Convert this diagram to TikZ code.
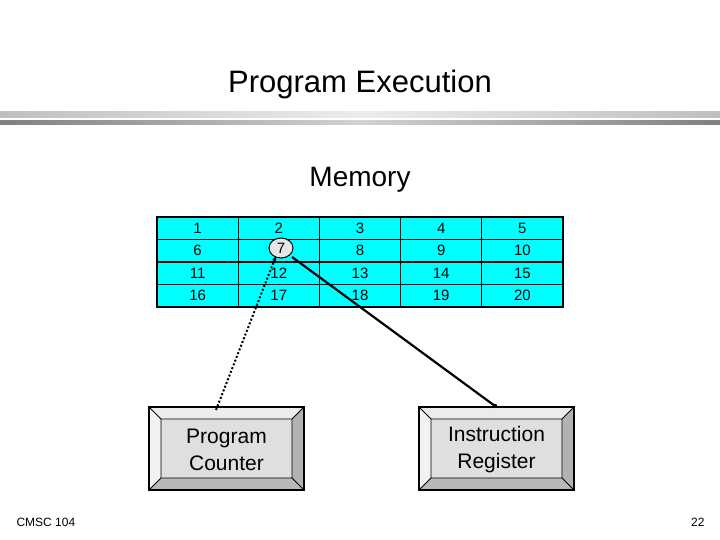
\documentclass[tikz,border=0pt]{standalone}
\usepackage{fontspec}
\setmainfont{Liberation Sans}
\usetikzlibrary{arrows.meta,shapes.geometric}
\definecolor{mcyan}{RGB}{0,255,255}
\begin{document}
\begin{tikzpicture}[x=1pt,y=-1pt,
  cell/.style={draw=black,line width=1.2pt,fill=mcyan,minimum width=81.2pt,minimum height=22.5pt,inner sep=0pt,font=\fontsize{15}{15}\selectfont},
  lbl/.style={font=\fontsize{21}{27}\selectfont,align=center}]
\useasboundingbox (0,0) rectangle (720,540);
\shade[left color=gray!50,right color=gray!50,middle color=gray!15] (0,112) rectangle (720,118);
\shade[left color=gray!100,right color=gray!100,middle color=gray!35] (0,121) rectangle (720,125);
\node (title) at (360,84) {\fontsize{31}{31}\selectfont Program Execution};
\node (mem) at (360,180) {\fontsize{28}{28}\selectfont Memory};
\foreach \r in {0,...,3}{\foreach \c in {0,...,4}{
  \pgfmathtruncatemacro\n{\r*5+\c+1}
  \node[cell] (c\n) at (197.6+\c*81.2,228.25+\r*22.5) {\ifnum\n=7\relax\else\n\fi};}}
\node[draw=black,line width=1pt,fill=gray!20,ellipse,inner sep=0pt,minimum width=24pt,minimum height=20pt,font=\fontsize{15}{15}\selectfont] (seven) at (281,248) {7};
% boxes
\foreach \nm/\x/\t in {pc/149/{Program\\Counter},ir/419/{Instruction\\Register}}{
  \begin{scope}[shift={(\x,407)}]
  \fill[gray!10] (0,0) -- (12,12) -- (12,71) -- (0,83) -- cycle;
  \fill[gray!60] (155,0) -- (143,12) -- (143,71) -- (155,83) -- cycle;
  \fill[gray!55] (0,83) -- (12,71) -- (143,71) -- (155,83) -- cycle;
  \fill[gray!15] (0,0) -- (12,12) -- (143,12) -- (155,0) -- cycle;
  \fill[gray!25] (12,12) rectangle (143,71);
  \draw[line width=1.2pt] (0,0) rectangle (155,83);
  \draw[line width=0.8pt] (12,12) rectangle (143,71) (0,0)--(12,12) (155,0)--(143,12) (0,83)--(12,71) (155,83)--(143,71);
  \end{scope}
  \node[lbl] (\nm) at (\x+77.5,449.5) {\t};}
\coordinate (pctop) at (216,410);
\coordinate (irtop) at (495,406);
\draw[line width=2pt,dotted,-{Stealth[length=5pt,width=4pt]}] (pctop) -- (276,256);
\draw[line width=2.2pt] (292,257) -- (irtop);
\fill (irtop) circle (2.2pt);
\node[anchor=west,font=\fontsize{12}{12}\selectfont] (foot) at (13,522) {CMSC 104};
\node[anchor=east,font=\fontsize{12}{12}\selectfont] (pg) at (708,522) {22};
\end{tikzpicture}
\end{document}
